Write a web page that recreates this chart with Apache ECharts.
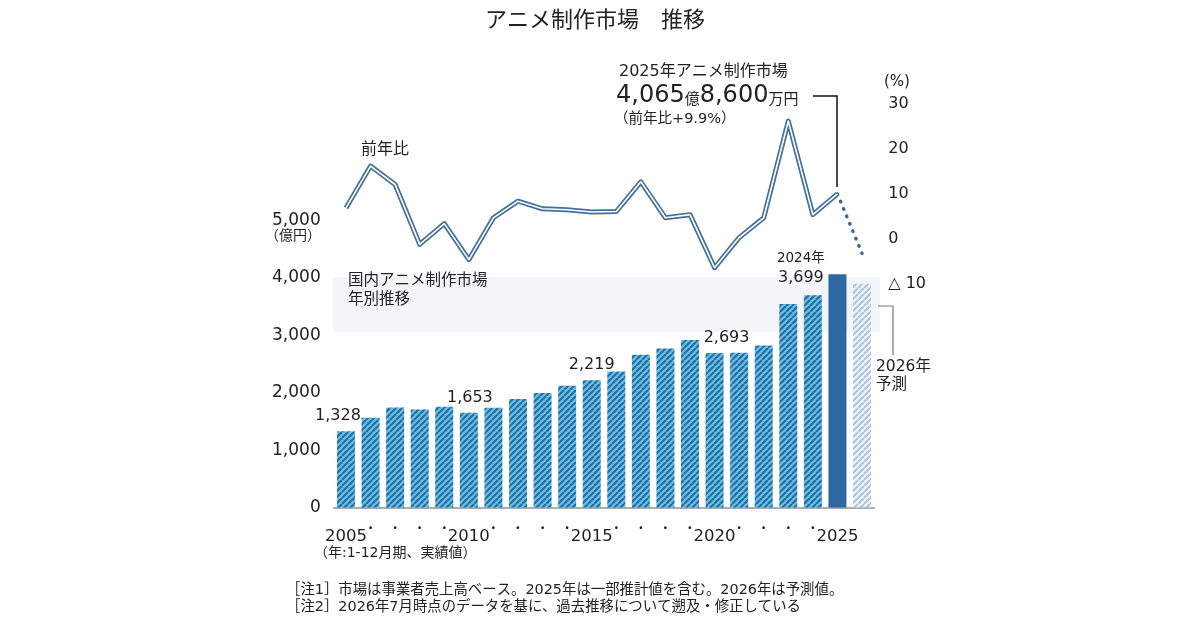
<!DOCTYPE html>
<html>
<head>
<meta charset="utf-8">
<script src="https://cdn.jsdelivr.net/npm/echarts@6/dist/echarts.min.js"></script>
<style>
html, body { margin: 0; padding: 0; background: #fff; }
#chart { width: 1200px; height: 630px; }
</style>
</head>
<body>
<div id="chart"></div>
<script>
(function(){

    // data
    var years  = ['2005','2006','2007','2008','2009','2010','2011','2012','2013','2014','2015',
                  '2016','2017','2018','2019','2020','2021','2022','2023','2024','2025','2026'];
    var market = [1328, 1565, 1744, 1710, 1756, 1653, 1739, 1890, 1994, 2121, 2219,
                  2371, 2661, 2771, 2922, 2693, 2698, 2823, 3548, 3699, 4066, 3900];
    var yoy    = [6.8, 16.1, 12.0, -1.3, 3.3, -4.7, 4.6, 8.3, 6.6, 6.4, 5.9,
                  6.0, 12.6, 4.6, 5.3, -6.5, 0.2, 4.6, 26.1, 5.3, 9.9, -3.3];
    var leftTicks  = [0, 1000, 2000, 3000, 4000, 5000];
    var rightTicks = [-10, 0, 10, 20, 30];
    var labelled   = [0, 5, 10, 15, 19];
    var labelShift = [-8, 1, 0, 12, -12];

    var FONT = '"DejaVu Sans", "Noto Sans CJK JP", sans-serif';
    var JP = '"Noto Sans CJK JP", sans-serif';
    var INK = '#222';

    function makeHatch(bg, fg) {
        var size = 6;
        var c = document.createElement('canvas');
        c.width = size; c.height = size;
        var ctx = c.getContext('2d');
        ctx.fillStyle = bg;
        ctx.fillRect(0, 0, size, size);
        ctx.strokeStyle = fg;
        ctx.lineWidth = 2.1;
        [-size, 0, size].forEach(function (x0) {
            ctx.beginPath();
            ctx.moveTo(x0, size);
            ctx.lineTo(x0 + size, 0);
            ctx.stroke();
        });
        return c;
    }

    var hatch      = makeHatch('#64c2ea', '#2a6a9b');
    var hatchLight = makeHatch('#eef3f9', '#adc5de');

    function comma(v) {
        return String(v).replace(/\B(?=(\d{3})+(?!\d))/g, ',');
    }

    var last = years.length - 1;

    var barData = market.map(function (v, i) {
        var color;
        if (i === last) color = { image: hatchLight, repeat: 'repeat' };
        else if (i === last - 1) color = '#2d68a0';
        else color = { image: hatch, repeat: 'repeat' };
        var item = { value: v, itemStyle: { color: color } };
        var k = labelled.indexOf(i);
        if (k >= 0) {
            item.label = { show: true, offset: [labelShift[k], 0] };
        }
        return item;
    });

    var lineData = yoy.map(function (v, i) { return i < last ? v : null; });
    var dotData  = yoy.map(function (v, i) { return i >= last - 1 ? v : null; });

    var chart = echarts.init(document.getElementById('chart'), null, { renderer: 'canvas' });

    var gl = 333.7, gw = 540.6;

    var option = {
        animation: false,
        backgroundColor: '#fff',
        textStyle: { fontFamily: FONT, color: INK },

        grid: [
            { left: gl, width: gw, top: 220.7, height: 286.8 },
            { left: gl, width: gw, top: 103.5, height: 180 }
        ],

        xAxis: [
            {
                type: 'category',
                gridIndex: 0,
                data: years,
                axisTick: { show: false },
                axisLine: { lineStyle: { color: '#8c939b', width: 1.5 } },
                axisLabel: {
                    interval: 0,
                    margin: 15,
                    formatter: function (val) {
                        var y = +val;
                        if (y === 2026) return '';
                        if (y % 5 === 0) return '{y|' + val + '}';
                        return '{d|·}';
                    },
                    rich: {
                        y: { fontFamily: FONT, fontSize: 16.5, lineHeight: 18, color: INK, padding: [10, 0, 0, 0] },
                        d: { fontFamily: JP, fontSize: 14, lineHeight: 10, color: INK, fontWeight: 'bold' }
                    }
                }
            },
            {
                type: 'category',
                gridIndex: 1,
                data: years,
                show: false
            }
        ],

        yAxis: [
            {
                type: 'value',
                gridIndex: 0,
                min: leftTicks[0],
                max: leftTicks[leftTicks.length - 1],
                interval: 1000,
                splitLine: { show: false },
                axisLine: { show: false },
                axisTick: { show: false },
                axisLabel: {
                    margin: 13,
                    fontFamily: FONT,
                    fontSize: 17,
                    color: INK,
                    formatter: function (v) { return comma(v); }
                }
            },
            {
                type: 'value',
                gridIndex: 1,
                position: 'right',
                min: rightTicks[0],
                max: rightTicks[rightTicks.length - 1],
                interval: 10,
                splitLine: { show: false },
                axisLine: { show: false },
                axisTick: { show: false },
                axisLabel: {
                    margin: 14,
                    fontFamily: FONT,
                    fontSize: 16,
                    color: INK,
                    formatter: function (v) { return v < 0 ? '△ ' + (-v) : String(v); }
                }
            }
        ],

        series: [
            {
                type: 'bar',
                xAxisIndex: 0,
                yAxisIndex: 0,
                barWidth: 18,
                data: barData,
                z: 3,
                label: {
                    show: false,
                    position: 'top',
                    distance: 7,
                    fontFamily: FONT,
                    fontSize: 16,
                    color: INK,
                    formatter: function (p) {
                        if (p.dataIndex === 19) {
                            return '{s|' + years[p.dataIndex] + '年}\n{n|' + comma(p.value) + '}';
                        }
                        return comma(p.value);
                    },
                    rich: {
                        s: { fontFamily: FONT, fontSize: 13.5, lineHeight: 19, color: INK, align: 'center' },
                        n: { fontFamily: FONT, fontSize: 16, lineHeight: 20, color: INK, align: 'center' }
                    }
                }
            },
            {
                type: 'line',
                xAxisIndex: 1,
                yAxisIndex: 1,
                data: lineData,
                symbol: 'none',
                z: 4,
                lineStyle: { color: '#42709a', width: 5, join: 'round' }
            },
            {
                type: 'line',
                xAxisIndex: 1,
                yAxisIndex: 1,
                data: lineData,
                symbol: 'none',
                z: 5,
                lineStyle: { color: '#ffffff', width: 1.6, join: 'round' }
            },
            {
                type: 'line',
                xAxisIndex: 1,
                yAxisIndex: 1,
                data: dotData,
                symbol: 'none',
                z: 4,
                lineStyle: { color: '#3b6894', width: 3.5, type: [0.5, 7.5], cap: 'round' }
            }
        ],

        graphic: [
            { type: 'text', x: 595, y: 19, style: { text: 'アニメ制作市場　推移', font: '22px ' + JP, fill: INK, align: 'center', verticalAlign: 'middle' } },

            { type: 'rect', z: -10, shape: { x: 333, y: 277, width: 547, height: 55 }, style: { fill: '#f3f5f8' } },

            { type: 'text', x: 265, y: 235, style: { text: '（億円）', font: '14px ' + JP, fill: INK, verticalAlign: 'middle' } },
            { type: 'text', x: 884, y: 82, style: { text: '(%)', font: '15px ' + FONT, fill: INK, verticalAlign: 'middle' } },

            { type: 'text', x: 361, y: 148, style: { text: '前年比', font: '16px ' + JP, fill: INK, verticalAlign: 'middle' } },
            { type: 'text', x: 348, y: 289, style: { text: '国内アニメ制作市場\n年別推移', font: '15.5px ' + JP, fill: INK, lineHeight: 19, verticalAlign: 'middle' } },

            { type: 'text', x: 619, y: 72, style: { text: '2025年アニメ制作市場', font: '16px ' + FONT, fill: INK, verticalAlign: 'middle' } },
            { type: 'text', x: 616, y: 96, style: {
                text: '{b|4,065}{s|億}{b|8,600}{s|万円}',
                verticalAlign: 'middle',
                rich: {
                    b: { fontFamily: FONT, fontSize: 24, lineHeight: 28, fill: INK, color: INK },
                    s: { fontFamily: JP, fontSize: 15, lineHeight: 28, fill: INK, color: INK, padding: [4, 0, 0, 0] }
                }
            } },
            { type: 'text', x: 614, y: 119, style: { text: '（前年比+9.9%）', font: '14.5px ' + FONT, fill: INK, verticalAlign: 'middle' } },
            { type: 'polyline', shape: { points: [[813, 96], [837, 96], [837, 187]] }, style: { stroke: '#111', lineWidth: 1.5, fill: null } },

            { type: 'polyline', shape: { points: [[878, 306], [893, 306], [893, 355]] }, style: { stroke: '#777', lineWidth: 1.2, fill: null } },
            { type: 'text', x: 876, y: 376, style: { text: '2026年\n予測', font: '15.5px ' + FONT, fill: INK, lineHeight: 18, verticalAlign: 'middle' } },

            { type: 'text', x: 314, y: 553, style: { text: '（年:1-12月期、実績値）', font: '14px ' + FONT, fill: INK, verticalAlign: 'middle' } },
            { type: 'text', x: 286, y: 590, style: { text: '［注1］市場は事業者売上高ベース。2025年は一部推計値を含む。2026年は予測値。', font: '14.4px ' + FONT, fill: INK, verticalAlign: 'middle' } },
            { type: 'text', x: 286, y: 607, style: { text: '［注2］2026年7月時点のデータを基に、過去推移について遡及・修正している', font: '14.4px ' + FONT, fill: INK, verticalAlign: 'middle' } }
        ]
    };

    chart.setOption(option);

})();
</script>
</body>
</html>
